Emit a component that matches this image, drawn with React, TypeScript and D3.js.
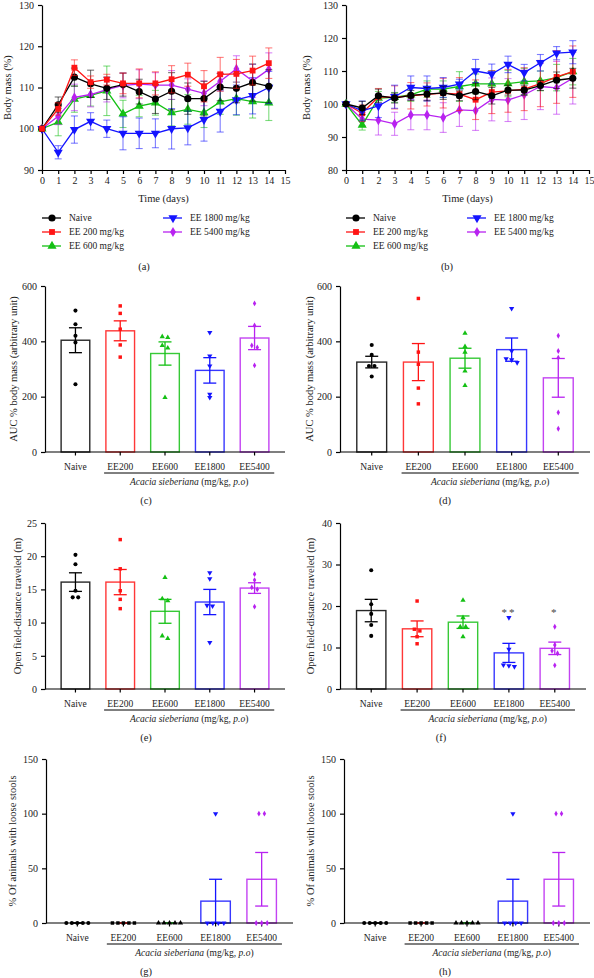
import React, { useEffect, useRef } from 'react';
import * as d3 from 'd3';

const FONT = '"Liberation Serif", "Times New Roman", serif';

// groups
const groupLabels = ['Naive', 'EE 200 mg/kg', 'EE 600 mg/kg', 'EE 1800 mg/kg', 'EE 5400 mg/kg'];
const barGroups = ['Naive', 'EE200', 'EE600', 'EE1800', 'EE5400'];
const groupColors = ['#000000', '#ff1414', '#14c014', '#1414ff', '#b822f0'];

const days = [0, 1, 2, 3, 4, 5, 6, 7, 8, 9, 10, 11, 12, 13, 14];
const dayTicks = [0, 1, 2, 3, 4, 5, 6, 7, 8, 9, 10, 11, 12, 13, 14, 15];

// (a) body mass, first experiment
const aNaive = [100, 105.8, 112.5, 110.9, 109.8, 110.7, 109.0, 107.2, 109.1, 107.3, 107.3, 110.1, 109.8, 111.2, 110.3];
const aNaiveSem = [0, 1.9, 2.2, 3.3, 2.7, 2.8, 3.0, 3.5, 4.5, 3.8, 4.2, 3.3, 3.5, 4.5, 4.0];
const aEE200 = [100, 104.8, 114.8, 111.3, 111.9, 111.0, 111.0, 111.0, 112.0, 113.1, 110.3, 113.2, 113.3, 114.1, 115.9];
const aEE200Sem = [0, 1.5, 1.9, 1.5, 1.3, 2.5, 3.5, 2.8, 3.3, 2.8, 3.8, 4.1, 3.5, 3.5, 3.7];
const aEE600 = [100, 101.6, 107.2, 108.1, 109.2, 103.6, 105.5, 106.3, 103.9, 104.7, 103.9, 106.5, 107.3, 106.6, 106.3];
const aEE600Sem = [0, 3.3, 3.2, 2.6, 6.0, 3.3, 2.6, 3.0, 3.2, 3.6, 3.6, 3.0, 4.0, 4.0, 4.3];
const aEE1800 = [100, 94.3, 99.8, 101.8, 100.0, 98.9, 98.9, 98.9, 100.0, 100.2, 102.2, 104.2, 107.0, 108.0, 110.0];
const aEE1800Sem = [0, 1.6, 3.3, 2.1, 2.1, 4.0, 3.7, 3.5, 4.9, 4.1, 5.2, 5.0, 3.6, 4.4, 3.9];
const aEE5400 = [100, 103.0, 107.6, 108.3, 109.5, 110.5, 110.8, 110.6, 110.6, 109.6, 108.6, 111.5, 114.5, 111.6, 114.4];
const aEE5400Sem = [0, 2.0, 3.2, 3.0, 3.0, 3.0, 3.5, 3.0, 3.5, 2.5, 3.0, 2.0, 3.2, 4.0, 4.0];

// (b) body mass, second experiment
const bNaive = [100, 98.8, 102.5, 101.8, 102.6, 103.0, 103.4, 102.5, 103.8, 102.5, 104.2, 104.2, 105.6, 107.2, 107.8];
const bNaiveSem = [0, 2.0, 2.0, 1.5, 1.5, 2.0, 2.0, 1.5, 2.5, 2.5, 1.5, 1.5, 1.5, 2.5, 3.0];
const bEE200 = [100, 97.2, 102.2, 102.0, 102.5, 102.9, 103.3, 103.0, 101.3, 103.6, 104.0, 104.5, 106.2, 108.2, 109.8];
const bEE200Sem = [0, 2.5, 2.5, 3.5, 4.0, 3.5, 4.5, 5.0, 6.0, 6.5, 6.5, 6.5, 7.0, 8.0, 7.8];
const bEE600 = [100, 93.6, 101.8, 102.0, 102.8, 104.5, 104.5, 105.3, 106.1, 106.1, 106.2, 106.8, 107.0, 108.0, 109.8];
const bEE600Sem = [0, 1.5, 2.0, 1.5, 2.0, 2.5, 2.5, 4.5, 3.0, 4.0, 4.0, 4.0, 3.0, 4.0, 4.0];
const bEE1800 = [100, 97.9, 99.4, 102.2, 105.0, 104.7, 105.0, 106.0, 110.0, 109.1, 112.0, 109.5, 112.5, 115.4, 115.7];
const bEE1800Sem = [0, 3.0, 3.5, 3.5, 3.5, 3.8, 3.0, 1.5, 3.5, 3.0, 2.5, 2.5, 2.5, 2.0, 3.5];
const bEE5400 = [100, 95.4, 95.1, 94.0, 96.7, 96.7, 95.9, 98.2, 98.0, 101.4, 101.2, 102.8, 105.3, 104.9, 107.8];
const bEE5400Sem = [0, 2.0, 4.5, 3.5, 4.5, 4.5, 4.5, 5.0, 6.0, 6.5, 6.5, 7.5, 7.0, 8.0, 7.8];

// (c) AUC % body mass, first experiment
const cMeans = [404, 438, 356, 295, 412];
const cSem = [45, 36, 42, 46, 42];
const cPoints = [[511, 462, 420, 396, 245], [528, 501, 444, 387, 343], [417, 414, 385, 376, 197], [432, 347, 311, 209, 197], [537, 457, 385, 378, 313]];

// (d) AUC % body mass, second experiment
const dMeans = [325, 325, 339, 370, 268];
const dSem = [21, 67, 36, 42, 70];
const dPoints = [[387, 351, 311, 311, 273], [555, 361, 317, 231, 174], [429, 381, 361, 293, 240], [519, 365, 337, 333, 323], [420, 365, 341, 143, 84]];

// (e) open field distance, first experiment
const eMeans = [16.1, 16.1, 11.7, 13.1, 15.2];
const eSem = [1.4, 1.9, 1.8, 1.9, 0.8];
const ePoints = [[20.2, 18.8, 14.8, 13.8, 13.8], [22.5, 18.1, 14.8, 13.5, 12.1], [16.8, 13.6, 13.3, 8.0, 7.6], [17.5, 16.6, 12.6, 12.5, 7.0], [17.3, 16.4, 15.3, 15.0, 12.4]];

// (f) open field distance, second experiment
const fMeans = [18.9, 14.5, 16.1, 8.7, 9.8];
const fSem = [2.7, 1.9, 1.5, 2.3, 1.5];
const fPoints = [[28.6, 20.4, 18.1, 15.4, 12.8], [21.2, 14.4, 14.0, 12.6, 10.9], [21.4, 17.2, 15.0, 15.0, 12.6], [17.2, 9.6, 5.8, 5.6, 5.4], [15.0, 10.6, 9.2, 8.6, 5.7]];
const fStars = ['', '', '', '**', '*'];
const fStarLevel = 19.3;

// (g) and (h) loose stools
const gMeans = [0, 0, 0, 20, 40];
const gSem = [0, 0, 0, 20, 24.5];
const gPoints = [[0, 0, 0, 0, 0], [0, 0, 0, 0, 0], [0, 0, 0, 0, 0], [100, 0, 0, 0, 0], [100, 100, 0, 0, 0]];
const hMeans = [0, 0, 0, 20, 40];
const hSem = [0, 0, 0, 20, 24.5];
const hPoints = [[0, 0, 0, 0, 0], [0, 0, 0, 0, 0], [0, 0, 0, 0, 0], [100, 0, 0, 0, 0], [100, 100, 0, 0, 0]];

const symbolTypes = [d3.symbolCircle, d3.symbolSquare, d3.symbolTriangle, d3.symbolTriangle, d3.symbolDiamond];
const bigSizes = [40, 34, 36, 36, 30];
const smallSizes = [13, 12, 12, 12, 10];

function marker(g, i, cx, cy, size, color) {
  g.append('path')
    .attr('d', d3.symbol().type(symbolTypes[i]).size(size)())
    .attr('transform', `translate(${cx},${cy})` + (i === 3 ? ' rotate(180)' : ''))
    .attr('fill', color);
}

function styleAxis(g, fontSize) {
  g.attr('font-family', FONT).attr('font-size', fontSize);
  g.selectAll('.domain').attr('stroke', '#000').attr('stroke-width', 1.2);
  g.selectAll('.tick line').attr('stroke', '#000').attr('stroke-width', 1.2);
  g.selectAll('.tick text').attr('fill', '#222');
}

function drawLinePanel(svg, p) {
  const g = svg.append('g');
  const x = d3.scaleLinear().domain([0, 15]).range([p.left, p.right]);
  const y = d3.scaleLinear().domain([p.yMin, p.yMax]).range([p.bottom, p.top]);

  const gx = g.append('g').attr('transform', `translate(0,${p.bottom})`)
    .call(d3.axisBottom(x).tickValues(dayTicks).tickSize(4).tickSizeOuter(0).tickPadding(3));
  styleAxis(gx, 10);
  const gy = g.append('g').attr('transform', `translate(${p.left},0)`)
    .call(d3.axisLeft(y).tickValues(p.yTicks).tickSize(4).tickSizeOuter(0).tickPadding(4));
  styleAxis(gy, 10);

  g.append('text').attr('x', (p.left + p.right) / 2).attr('y', p.bottom + 28).attr('dy', '0.35em')
    .attr('text-anchor', 'middle').attr('font-family', FONT).attr('font-size', 10.5).attr('fill', '#222')
    .text('Time (days)');
  g.append('text').attr('transform', `translate(${p.titleX},${(p.top + p.bottom) / 2}) rotate(-90)`)
    .attr('dy', '0.35em').attr('text-anchor', 'middle').attr('font-family', FONT).attr('font-size', 10.5)
    .attr('fill', '#222').text('Body mass (%)');

  p.order.forEach((i) => {
    const s = p.series[i];
    const col = groupColors[i];
    const eg = g.append('g').attr('stroke', col).attr('stroke-opacity', 0.55).attr('stroke-width', 1.1);
    days.forEach((d, k) => {
      if (!s.sem[k]) return;
      const cx = x(d);
      const y0 = y(s.values[k] - s.sem[k]);
      const y1 = y(s.values[k] + s.sem[k]);
      eg.append('line').attr('x1', cx).attr('x2', cx).attr('y1', y0).attr('y2', y1);
      eg.append('line').attr('x1', cx - 3.5).attr('x2', cx + 3.5).attr('y1', y0).attr('y2', y0);
      eg.append('line').attr('x1', cx - 3.5).attr('x2', cx + 3.5).attr('y1', y1).attr('y2', y1);
    });
    const line = d3.line().x((d) => x(d[0])).y((d) => y(d[1]));
    g.append('path').datum(days.map((d, k) => [d, s.values[k]]))
      .attr('d', line).attr('fill', 'none').attr('stroke', col).attr('stroke-width', 1.3);
    const mg = g.append('g');
    days.forEach((d, k) => marker(mg, i, x(d), y(s.values[k]), bigSizes[i], col));
  });

  // legend
  groupLabels.forEach((lab, i) => {
    const colIdx = i < 3 ? 0 : 1;
    const row = i < 3 ? i : i - 3;
    const lx = p.left + colIdx * 121;
    const ly = p.bottom + 48 + row * 14;
    g.append('line').attr('x1', lx).attr('x2', lx + 19).attr('y1', ly).attr('y2', ly)
      .attr('stroke', groupColors[i]).attr('stroke-width', 1.3);
    marker(g, i, lx + 10, ly, bigSizes[i], groupColors[i]);
    g.append('text').attr('x', lx + 27).attr('y', ly).attr('dy', '0.35em')
      .attr('font-family', FONT).attr('font-size', 9.5).attr('fill', '#222').text(lab);
  });

  g.append('text').attr('x', p.labelX).attr('y', p.bottom + 96).attr('dy', '0.35em')
    .attr('text-anchor', 'middle').attr('font-family', FONT).attr('font-size', 10.5).attr('fill', '#222')
    .text(p.label);
}

function spreadOffsets(ys, gap, thresh) {
  const idx = ys.map((v, k) => k).sort((a, b) => ys[a] - ys[b]);
  const offs = new Array(ys.length).fill(0);
  let start = 0;
  for (let k = 1; k <= idx.length; k++) {
    if (k === idx.length || ys[idx[k]] - ys[idx[k - 1]] > thresh) {
      const n = k - start;
      for (let j = 0; j < n; j++) offs[idx[start + j]] = (j - (n - 1) / 2) * gap;
      start = k;
    }
  }
  return offs;
}

function drawBarPanel(svg, p) {
  const g = svg.append('g');
  const x = d3.scalePoint().domain(barGroups).range([p.left, p.right]).padding(0.68);
  const y = d3.scaleLinear().domain([0, p.yMax]).range([p.bottom, p.top]);
  const step = x.step();
  const bw = step * 0.64;

  const gy = g.append('g').attr('transform', `translate(${p.left},0)`)
    .call(d3.axisLeft(y).tickValues(p.yTicks).tickSize(4).tickSizeOuter(0).tickPadding(4));
  styleAxis(gy, 10);

  g.append('text').attr('transform', `translate(${p.titleX},${(p.top + p.bottom) / 2}) rotate(-90)`)
    .attr('dy', '0.35em').attr('text-anchor', 'middle').attr('font-family', FONT).attr('font-size', 10.5)
    .attr('fill', '#222').text(p.yTitle);

  barGroups.forEach((name, i) => {
    const cx = x(name);
    const col = groupColors[i];
    const top = y(p.means[i]);
    g.append('rect').attr('x', cx - bw / 2).attr('y', top).attr('width', bw)
      .attr('height', Math.max(0, p.bottom - top)).attr('fill', '#fff')
      .attr('stroke', col).attr('stroke-width', 1.4).attr('stroke-opacity', 0.85);
    const y0 = y(p.means[i] - p.sem[i]);
    const y1 = y(p.means[i] + p.sem[i]);
    const eg = g.append('g').attr('stroke', col).attr('stroke-width', 1.3);
    eg.append('line').attr('x1', cx).attr('x2', cx).attr('y1', y0).attr('y2', y1);
    eg.append('line').attr('x1', cx - 6.5).attr('x2', cx + 6.5).attr('y1', y0).attr('y2', y0);
    eg.append('line').attr('x1', cx - 6.5).attr('x2', cx + 6.5).attr('y1', y1).attr('y2', y1);
  });

  // x axis line and category ticks
  g.append('line').attr('x1', p.left).attr('x2', p.right).attr('y1', p.bottom).attr('y2', p.bottom)
    .attr('stroke', '#000').attr('stroke-width', 1.2);
  barGroups.forEach((name) => {
    g.append('line').attr('x1', x(name)).attr('x2', x(name)).attr('y1', p.bottom).attr('y2', p.bottom + 3.5)
      .attr('stroke', '#000').attr('stroke-width', 1.2);
    g.append('text').attr('x', x(name)).attr('y', p.bottom + 15).attr('dy', '0.35em')
      .attr('text-anchor', 'middle').attr('font-family', FONT).attr('font-size', 9.5).attr('fill', '#222')
      .text(name);
  });

  barGroups.forEach((name, i) => {
    const pts = p.points[i];
    const ys = pts.map((v) => y(v));
    const offs = spreadOffsets(ys, 5.5, 3);
    const col = p.pointColors ? p.pointColors[i] : groupColors[i];
    pts.forEach((v, k) => marker(g, i, x(name) + offs[k], ys[k], smallSizes[i], col));
  });

  if (p.stars) {
    barGroups.forEach((name, i) => {
      if (!p.stars[i]) return;
      g.append('text').attr('x', x(name)).attr('y', y(p.starLevel)).attr('dy', '0.6em')
        .attr('text-anchor', 'middle').attr('font-family', FONT).attr('font-size', 11)
        .attr('letter-spacing', 2).attr('fill', '#444').text(p.stars[i]);
    });
  }

  const ux0 = x('EE200') - step * 0.36;
  const ux1 = x('EE5400') + step * 0.44;
  g.append('line').attr('x1', ux0).attr('x2', ux1).attr('y1', p.bottom + 21).attr('y2', p.bottom + 21)
    .attr('stroke', '#000').attr('stroke-width', 1);
  const t = g.append('text').attr('x', (ux0 + ux1) / 2).attr('y', p.bottom + 30).attr('dy', '0.35em')
    .attr('text-anchor', 'middle').attr('font-family', FONT).attr('font-size', 9.5).attr('fill', '#222');
  t.append('tspan').attr('font-style', 'italic').text('Acacia sieberiana');
  t.append('tspan').text(' (mg/kg, ');
  t.append('tspan').attr('font-style', 'italic').text('p.o');
  t.append('tspan').text(')');

  g.append('text').attr('x', p.labelX).attr('y', p.bottom + 48).attr('dy', '0.35em')
    .attr('text-anchor', 'middle').attr('font-family', FONT).attr('font-size', 10.5).attr('fill', '#222')
    .text(p.label);
}

export default function App() {
  const ref = useRef(null);

  useEffect(() => {
    const svg = d3.select(ref.current);
    svg.selectAll('*').remove();

    drawLinePanel(svg, {
      left: 42, right: 285, top: 5, bottom: 170, yMin: 90, yMax: 130, yTicks: [90, 100, 110, 120, 130],
      titleX: 7, labelX: 144, label: '(a)', order: [2, 4, 3, 0, 1],
      series: [
        { values: aNaive, sem: aNaiveSem },
        { values: aEE200, sem: aEE200Sem },
        { values: aEE600, sem: aEE600Sem },
        { values: aEE1800, sem: aEE1800Sem },
        { values: aEE5400, sem: aEE5400Sem },
      ],
    });
    drawLinePanel(svg, {
      left: 346, right: 589, top: 5, bottom: 170, yMin: 80, yMax: 130, yTicks: [80, 90, 100, 110, 120, 130],
      titleX: 306, labelX: 447, label: '(b)', order: [4, 2, 1, 3, 0],
      series: [
        { values: bNaive, sem: bNaiveSem },
        { values: bEE200, sem: bEE200Sem },
        { values: bEE600, sem: bEE600Sem },
        { values: bEE1800, sem: bEE1800Sem },
        { values: bEE5400, sem: bEE5400Sem },
      ],
    });

    const auc = 'AUC % body mass (arbitrary unit)';
    const ofd = 'Open field-distance traveled (m)';
    const stools = '% Of animals with loose stools';
    const dark = ['#000', '#000', '#000', groupColors[3], groupColors[4]];

    drawBarPanel(svg, { left: 45, right: 285, top: 286, bottom: 452, yMax: 600, yTicks: [0, 200, 400, 600],
      means: cMeans, sem: cSem, points: cPoints, yTitle: auc, titleX: 13, labelX: 146, label: '(c)' });
    drawBarPanel(svg, { left: 340, right: 590, top: 286, bottom: 452, yMax: 600, yTicks: [0, 200, 400, 600],
      means: dMeans, sem: dSem, points: dPoints, yTitle: auc, titleX: 309, labelX: 445, label: '(d)' });
    drawBarPanel(svg, { left: 45, right: 285, top: 523, bottom: 689, yMax: 25, yTicks: [0, 5, 10, 15, 20, 25],
      means: eMeans, sem: eSem, points: ePoints, yTitle: ofd, titleX: 17, labelX: 146, label: '(e)' });
    drawBarPanel(svg, { left: 340, right: 586, top: 523, bottom: 689, yMax: 40, yTicks: [0, 10, 20, 30, 40],
      means: fMeans, sem: fSem, points: fPoints, yTitle: ofd, titleX: 310, labelX: 441, label: '(f)',
      stars: fStars, starLevel: fStarLevel });
    drawBarPanel(svg, { left: 46, right: 293, top: 759, bottom: 923, yMax: 150, yTicks: [0, 50, 100, 150],
      means: gMeans, sem: gSem, points: gPoints, yTitle: stools, titleX: 12, labelX: 146, label: '(g)',
      pointColors: dark });
    drawBarPanel(svg, { left: 344, right: 590, top: 759, bottom: 923, yMax: 150, yTicks: [0, 50, 100, 150],
      means: hMeans, sem: hSem, points: hPoints, yTitle: stools, titleX: 310, labelX: 445, label: '(h)',
      pointColors: dark });
  }, []);

  return (
    <svg ref={ref} width={594} height={978}
      style={{ position: 'absolute', left: 0, top: 0, background: '#fff' }} />
  );
}
